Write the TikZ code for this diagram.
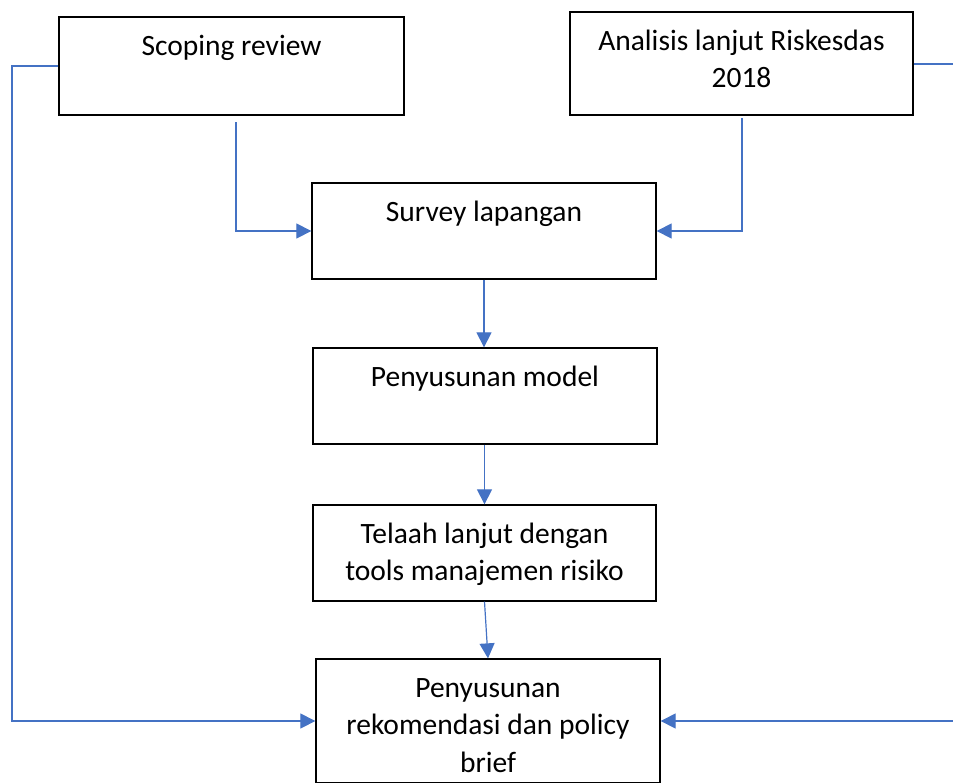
\documentclass[tikz,border=0pt]{standalone}
\usepackage{fontspec}
\setmainfont{Carlito}
\usetikzlibrary{arrows.meta}
\definecolor{connblue}{HTML}{4472C4}
\tikzset{
  box/.style={draw=black, line width=1.3pt, fill=white, inner sep=0pt, rectangle},
  txt/.style={anchor=north, inner sep=0pt, align=center, font=\fontsize{29.5}{37.5}\selectfont},
  conn/.style={draw=connblue, line width=1.2pt, -{Triangle[length=15pt,width=15pt]}}
}
\begin{document}
\begin{tikzpicture}[x=1pt,y=1pt]
\useasboundingbox (0,0) rectangle (953,-782);
\clip (0,0) rectangle (953,-782);
% boxes
\node[box, minimum width=345pt, minimum height=98pt] (A) at (231.5,-66) {};
\node[box, minimum width=343pt, minimum height=103pt] (B) at (741.5,-63.5) {};
\node[box, minimum width=344pt, minimum height=96pt] (C) at (484,-231) {};
\node[box, minimum width=344pt, minimum height=96pt] (D) at (485,-396) {};
\node[box, minimum width=343pt, minimum height=96pt] (E) at (484.5,-553) {};
\node[box, minimum width=344pt, minimum height=124pt] (F) at (488,-721) {};
% texts
\node[txt] (tA) at (231.5,-29) {\strut Scoping review};
\node[txt] (tB) at (741.5,-24) {\strut Analisis lanjut Riskesdas\\\strut 2018};
\node[txt] (tC) at (484,-195.5) {\strut Survey lapangan};
\node[txt] (tD) at (485,-360) {\strut Penyusunan model};
\node[txt] (tE) at (484.5,-517) {\strut Telaah lanjut dengan\\\strut tools manajemen risiko};
\node[txt] (tF) at (488,-671) {\strut Penyusunan\\\strut rekomendasi dan policy\\\strut brief};
% free ends
\coordinate (sA) at (236,-122);
\coordinate (sB) at (742,-118);
\coordinate (lL) at (12,-66);
\coordinate (lR) at (960,-64);
% connectors
\draw[conn] (A.west) -- (lL) |- (F.west);
\draw[conn] (B.east |- lR) -- (lR) |- (F.east);
\draw[conn] (sA) |- (C.west);
\draw[conn] (sB) |- (C.east);
\draw[conn] (C.south) -- (C.south |- D.north);
\draw[conn] (E.north |- D.south) -- (E.north);
\draw[conn] (E.south) -- (F.north);
\end{tikzpicture}
\end{document}
